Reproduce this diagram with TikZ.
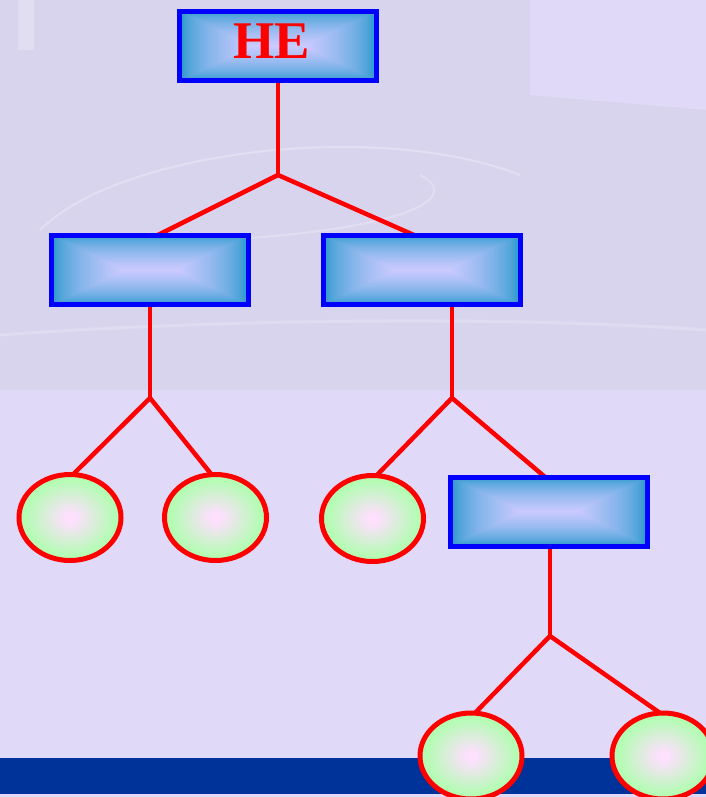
\documentclass[tikz,border=0pt]{standalone}
\usepackage{fontspec}
\setmainfont{Liberation Serif}
\usetikzlibrary{shapes.geometric,calc}
\definecolor{bgc}{HTML}{E0DAF8}
\definecolor{photoc}{HTML}{D8D4EE}
\definecolor{barc}{HTML}{003399}
\definecolor{edgec}{HTML}{2096CC}
\definecolor{midc}{HTML}{CACAFF}
\definecolor{pinkc}{HTML}{FCE0FC}
\definecolor{greenc}{HTML}{B4FCB4}
\pgfdeclareradialshading{ellshade}{\pgfpoint{0bp}{0bp}}{color(0bp)=(pinkc); color(3bp)=(pinkc); color(22bp)=(greenc); color(25bp)=(greenc); color(50bp)=(greenc)}
\pgfdeclarelayer{bg}
\pgfdeclarelayer{lines}
\pgfsetlayers{bg,lines,main}
\tikzset{
  gbox/.style={rectangle, draw=blue, line width=5pt, minimum width=197pt, minimum height=69pt, inner sep=0pt, outer sep=0pt,
    path picture={
      \foreach \i in {0,...,34}{
        \pgfmathsetmacro{\pc}{100*(\i/34)^0.6}
        \pgfmathsetmacro{\dx}{\i/35*72}
        \pgfmathsetmacro{\dy}{\i/35*34.5}
        \fill[midc!\pc!edgec] ([xshift=\dx pt, yshift=-\dy pt]path picture bounding box.north west) rectangle ([xshift=-\dx pt, yshift=\dy pt]path picture bounding box.south east);
      }
    }},
  leaf/.style={ellipse, draw=red, line width=5pt, minimum width=102pt, minimum height=86pt, inner sep=0pt, outer sep=0pt, shade, shading=ellshade},
  conn/.style={draw=red, line width=4.5pt}
}
\begin{document}
\begin{tikzpicture}[x=1pt, y=-1pt]
\useasboundingbox (0,0) rectangle (706,797);
\begin{pgfonlayer}{bg}
  \fill[bgc] (0,0) rectangle (706,797);
  \fill[photoc] (0,0) -- (530,0) -- (530,95) -- (706,110) -- (706,390) -- (0,390) -- cycle;
  \fill[white, opacity=0.25] (18,0) rectangle (34,50);
  \draw[white, opacity=0.28, line width=2pt] (40,230) .. controls (120,150) and (380,120) .. (520,175);
  \draw[white, opacity=0.25, line width=2pt] (250,238) .. controls (420,225) and (460,195) .. (420,175);
  \draw[white, opacity=0.2, line width=3pt] (0,335) .. controls (200,320) and (500,315) .. (706,330);
  \fill[barc] (0,758) rectangle (706,794);
\end{pgfonlayer}

\node[gbox] (he) at (278,46) {};
\node[text=red, font=\fontsize{53}{53}\selectfont\bfseries, inner sep=0pt] (het) at (272,41.5) {HE};
\node[gbox] (b1) at (150,270) {};
\node[gbox] (b2) at (421.5,270) {};
\node[gbox] (b3) at (549,511.5) {};
\node[leaf] (e1) at (70,517.5) {};
\node[leaf] (e2) at (215.5,517.5) {};
\node[leaf] (e3) at (372.5,518.5) {};
\node[leaf] (e4) at (471,756) {};
\node[leaf] (e5) at (663,756) {};

\coordinate (j1) at (278,175);
\coordinate (j2) at (150,398);
\coordinate (j3) at (452,398);
\coordinate (j4) at (550,636);

\begin{pgfonlayer}{lines}
  \draw[conn] (he.south) -- (j1);
  \draw[conn] ([xshift=7pt]b1.north) -- (j1) -- ([xshift=-6.5pt]b2.north);
  \draw[conn] (b1.south) -- (j2);
  \draw[conn] ([xshift=3pt]e1.north) -- (j2) -- ([xshift=-4pt]e2.north);
  \draw[conn] ([xshift=30.5pt]b2.south) -- (j3);
  \draw[conn] ([xshift=4pt]e3.north) -- (j3) -- ([xshift=-4pt]b3.north);
  \draw[conn] ([xshift=1pt]b3.south) -- (j4);
  \draw[conn] ([xshift=4pt]e4.north) -- (j4) -- ([xshift=-3pt]e5.north);
\end{pgfonlayer}
\end{tikzpicture}
\end{document}
